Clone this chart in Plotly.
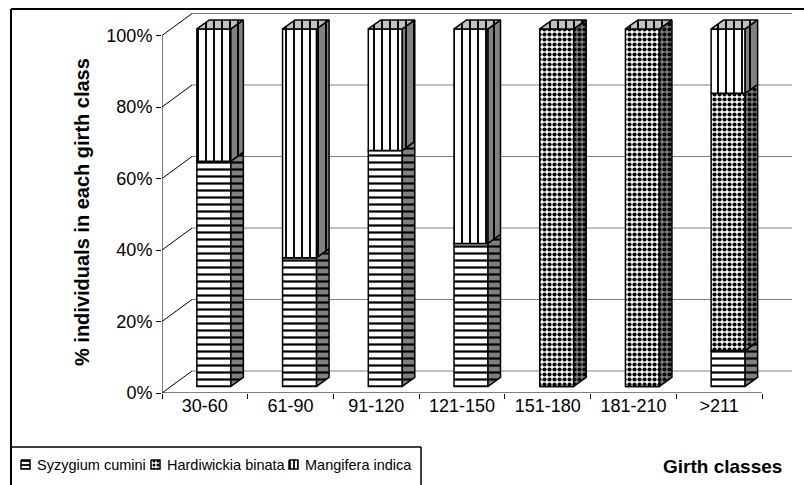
import plotly.graph_objects as go

# ---------------- data ----------------
categories = ["30-60", "61-90", "91-120", "121-150", "151-180", "181-210", ">211"]
syzygium = [63, 36, 66, 40, 0, 0, 10]
hardwickia = [0, 0, 0, 0, 100, 100, 72]
mangifera = [37, 64, 34, 60, 0, 0, 18]
series_names = ["Syzygium cumini", "Hardiwickia binata", "Mangifera indica"]
y_tick_values = [0, 20, 40, 60, 80, 100]
y_tick_labels = ["0%", "20%", "40%", "60%", "80%", "100%"]
x_title = "Girth classes"
y_title = "% individuals in each girth class"

# ---------------- geometry / style ----------------
W, H = 804, 485
FONT = "Liberation Sans, Arial, sans-serif"
X0_PX, X1_PX = 162, 792
Y_TOP_PX, Y_BOT_PX = 12, 393
CAT_PX = 600 / 7
PCT_PX = 357.5 / 100
WALL_DX, WALL_DY = 30 / CAT_PX, 22 / PCT_PX
FRONT_DX, FRONT_DY = 9 / CAT_PX, 6.6 / PCT_PX
DEPTH_DX, DEPTH_DY = 12.5 / CAT_PX, 9 / PCT_PX
BAR_W = 34 / CAT_PX
X_MIN = -0.5
X_MAX = X_MIN + (X1_PX - X0_PX) / CAT_PX
Y_MAX = (Y_BOT_PX - Y_TOP_PX) / PCT_PX

SIDE = "#808080"
TOP = "#c0c0c0"
GRID = "#808080"
patterns = [
    dict(shape="-", size=7, solidity=0.32),
    dict(shape=".", size=5, solidity=0.55),
    dict(shape="|", size=8, solidity=0.24),
]
values = [syzygium, hardwickia, mangifera]

fig = go.Figure()

n = len(categories)
bases = [0] * n
for s, vals in enumerate(values):
    pat = patterns[s]
    xs = [i + FRONT_DX for i in range(n)]
    fig.add_trace(go.Bar(
        x=xs, y=vals, base=[b + FRONT_DY for b in bases], width=BAR_W,
        marker=dict(color="white",
                    pattern=dict(shape=pat["shape"], size=pat["size"], solidity=pat["solidity"],
                                 fgcolor="black", bgcolor="white", fillmode="replace"),
                    line=dict(color="black", width=1.5)),
        showlegend=False, name=series_names[s], hoverinfo="skip"))
    # side faces
    sx, sy = [], []
    for i in range(n):
        if vals[i] <= 0:
            continue
        xr = i + FRONT_DX + BAR_W / 2
        b = bases[i] + FRONT_DY
        t = bases[i] + vals[i] + FRONT_DY
        sx += [xr, xr + DEPTH_DX, xr + DEPTH_DX, xr, xr, None]
        sy += [b, b + DEPTH_DY, t + DEPTH_DY, t, b, None]
    fig.add_trace(go.Scatter(
        x=sx, y=sy, mode="lines", fill="toself", fillcolor=SIDE,
        fillpattern=dict(shape=pat["shape"], size=pat["size"], solidity=pat["solidity"],
                         fgcolor="black", bgcolor=SIDE, fillmode="replace"),
        line=dict(color="black", width=1.5), showlegend=False, hoverinfo="skip"))
    bases = [bases[i] + vals[i] for i in range(n)]

# top faces (top series pattern)
tx, ty = [], []
for i in range(n):
    xl = i + FRONT_DX - BAR_W / 2
    xr = i + FRONT_DX + BAR_W / 2
    t = bases[i] + FRONT_DY
    tx += [xl, xr, xr + DEPTH_DX, xl + DEPTH_DX, xl, None]
    ty += [t, t, t + DEPTH_DY, t + DEPTH_DY, t, None]
pat = patterns[2]
fig.add_trace(go.Scatter(
    x=tx, y=ty, mode="lines", fill="toself", fillcolor=TOP,
    fillpattern=dict(shape=pat["shape"], size=pat["size"], solidity=pat["solidity"],
                     fgcolor="black", bgcolor=TOP, fillmode="replace"),
    line=dict(color="black", width=1.5), showlegend=False, hoverinfo="skip"))

# ---------------- walls / gridlines ----------------
shapes = []
for p in y_tick_values:
    shapes.append(dict(type="line", xref="x", yref="y", layer="below",
                       x0=X_MIN + WALL_DX, x1=X_MAX, y0=p + WALL_DY, y1=p + WALL_DY,
                       line=dict(color=GRID, width=1)))
    shapes.append(dict(type="line", xref="x", yref="y", layer="below",
                       x0=X_MIN, x1=X_MIN + WALL_DX, y0=p, y1=p + WALL_DY,
                       line=dict(color="black", width=1)))
shapes.append(dict(type="line", xref="x", yref="y", x0=X_MIN, x1=X_MIN, y0=0, y1=100,
                   line=dict(color="black", width=1)))
shapes.append(dict(type="line", xref="x", yref="y", x0=X_MIN, x1=n - 0.5, y0=0, y1=0,
                   line=dict(color="black", width=1)))

# frame and legend box (paper coords, margins are zero so paper = page)
def px(x):
    return x / W

def py(y):
    return 1 - y / H

shapes += [
    dict(type="line", xref="paper", yref="paper", x0=px(11), x1=px(804), y0=py(9), y1=py(9),
         line=dict(color="black", width=2)),
    dict(type="line", xref="paper", yref="paper", x0=px(11), x1=px(11), y0=py(9), y1=py(485),
         line=dict(color="black", width=2)),
    dict(type="line", xref="paper", yref="paper", x0=px(11), x1=px(421), y0=py(447), y1=py(447),
         line=dict(color="black", width=1.5)),
    dict(type="line", xref="paper", yref="paper", x0=px(421), x1=px(421), y0=py(447), y1=py(485),
         line=dict(color="black", width=1.5)),
]

# ---------------- legend (icons on helper axes) ----------------
icon_x = [21, 151, 289]
text_x = [35, 165, 303]
for s in range(3):
    x0 = icon_x[s]
    pat = patterns[s]
    fig.add_trace(go.Scatter(
        x=[x0, x0 + 9, x0 + 9, x0, x0], y=[460, 460, 469, 469, 460],
        xaxis="x2", yaxis="y2", mode="lines", fill="toself", fillcolor="white",
        fillpattern=dict(shape=pat["shape"], size=4, solidity=0.45,
                         fgcolor="black", bgcolor="white", fillmode="replace"),
        line=dict(color="black", width=1.5), showlegend=False, hoverinfo="skip"))

annotations = []
for s in range(3):
    annotations.append(dict(xref="paper", yref="paper", x=px(text_x[s]), y=py(465),
                            xanchor="left", yanchor="middle", showarrow=False,
                            text=series_names[s], font=dict(family=FONT, size=14.5, color="black")))
annotations.append(dict(xref="paper", yref="paper", x=px(722), y=py(466),
                        xanchor="center", yanchor="middle", showarrow=False,
                        text="<b>" + x_title + "</b>",
                        font=dict(family=FONT, size=19, color="black")))
annotations.append(dict(xref="paper", yref="paper", x=px(82), y=py(212),
                        xanchor="center", yanchor="middle", showarrow=False, textangle=-90,
                        text="<b>" + y_title + "</b>",
                        font=dict(family=FONT, size=20, color="black")))

fig.update_layout(
    width=W, height=H, margin=dict(l=0, r=0, t=0, b=0),
    paper_bgcolor="white", plot_bgcolor="rgba(0,0,0,0)",
    barmode="overlay", showlegend=False,
    font=dict(family=FONT, size=18, color="black"),
    xaxis=dict(domain=[X0_PX / W, X1_PX / W], range=[X_MIN, X_MAX],
               showgrid=False, zeroline=False, showline=False,
               tickmode="array", tickvals=list(range(n)), ticktext=categories, ticks="",
               tickfont=dict(family=FONT, size=18, color="black"),
               minor=dict(tickmode="array", tickvals=[i - 0.5 for i in range(n + 1)],
                          ticks="outside", ticklen=5, tickcolor="black", tickwidth=1, showgrid=False),
               fixedrange=True, automargin=False),
    yaxis=dict(domain=[1 - Y_BOT_PX / H, 1 - Y_TOP_PX / H], range=[0, Y_MAX],
               showgrid=False, zeroline=False, showline=False,
               tickmode="array", tickvals=y_tick_values, ticktext=y_tick_labels,
               ticks="outside", ticklen=5, tickcolor="black",
               tickfont=dict(family=FONT, size=18, color="black"),
               fixedrange=True, automargin=False),
    xaxis2=dict(domain=[0, 1], range=[0, W], visible=False, fixedrange=True),
    yaxis2=dict(domain=[0, (H - 447) / H], range=[H, 447], visible=False, fixedrange=True),
    shapes=shapes, annotations=annotations,
)

fig.write_html("out.html", config={"displayModeBar": False},
               post_script="document.body.style.margin='0px';document.body.style.overflow='hidden';")
